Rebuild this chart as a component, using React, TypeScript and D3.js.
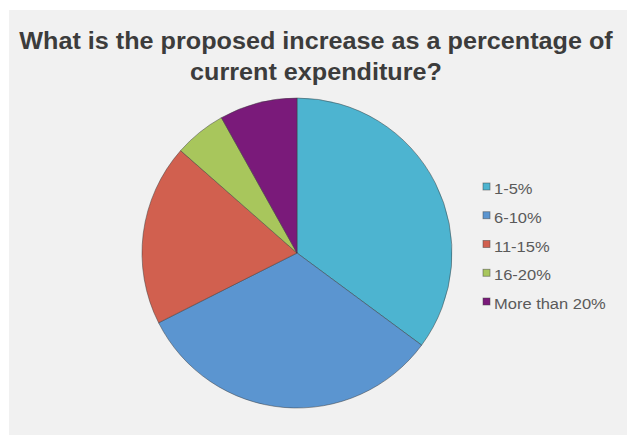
import React from "react";
import * as d3 from "d3";

const categories = ["1-5%", "6-10%", "11-15%", "16-20%", "More than 20%"];
const values = [13, 12, 7, 2, 3];
const colors = ["#4db4d0", "#5b95d0", "#d1604f", "#a8c65c", "#7a1a7a"];
const titleLines = ["What is the proposed increase as a percentage of", "current expenditure?"];

export default function App() {
  const W = 627, H = 435;
  const cx = 297, cy = 253, r = 155;
  const pie = d3.pie<number>().sort(null).value((d) => d)(values);
  const arc = d3.arc<d3.PieArcDatum<number>>().innerRadius(0).outerRadius(r);
  const font = "Liberation Sans, Arial, sans-serif";
  return (
    <svg width={W} height={H} style={{ position: "absolute", left: 0, top: 0 }}>
      <rect x={0} y={0} width={W} height={H} fill="#ffffff" />
      <rect x={9} y={10} width={W - 9} height={H - 10} fill="#f1f1f1" />
      {titleLines.map((t, i) => (
        <text key={i} transform={`translate(316,${49 + i * 31}) scale(1.05,1)`} textAnchor="middle"
          fontFamily={font} fontWeight="bold" fontSize={24} fill="#3c3c3c">{t}</text>
      ))}
      <g transform={`translate(${cx},${cy})`}>
        {pie.map((p, i) => (
          <path key={i} d={arc(p) || ""} fill={colors[i]} stroke="#3a3a3a" strokeWidth={0.8} strokeOpacity={0.6} />
        ))}
      </g>
      {categories.map((c, i) => {
        const y = 183 + i * 28.75;
        return (
          <g key={c}>
            <rect x={483} y={y} width={7} height={7} fill={colors[i]} stroke="#444" strokeWidth={0.8} strokeOpacity={0.6} />
            <text transform={`translate(494,${y + 11}) scale(1.1,1)`} fontFamily={font} fontSize={15} fill="#5a5a5a">{c}</text>
          </g>
        );
      })}
    </svg>
  );
}
